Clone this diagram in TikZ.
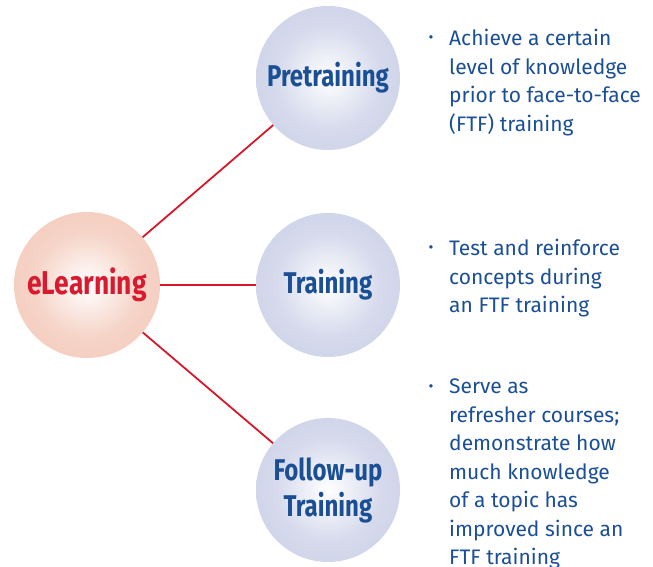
\documentclass[tikz,border=0pt]{standalone}
\usepackage{fontspec}
\setmainfont{Fira Sans}
\newfontfamily\labelfont[FakeStretch=0.8]{Fira Sans Bold}
\definecolor{txtblue}{HTML}{1B4F95}
\definecolor{lblred}{HTML}{D91A2E}
\definecolor{linered}{HTML}{D7182A}
\definecolor{blueouter}{HTML}{C0C5E0}
\definecolor{bluemid}{HTML}{D6DAEC}
\definecolor{pinkouter}{HTML}{F1BCAA}
\definecolor{pinkmid}{HTML}{F6D4C8}
\pgfdeclareradialshading{softblue}{\pgfpoint{0bp}{0bp}}{color(0bp)=(white); color(18bp)=(bluemid); color(50bp)=(blueouter); color(100bp)=(blueouter)}
\pgfdeclareradialshading{softpink}{\pgfpoint{0bp}{0bp}}{color(0bp)=(white); color(18bp)=(pinkmid); color(50bp)=(pinkouter); color(100bp)=(pinkouter)}
\tikzset{
  bluecirc/.style={circle, minimum size=144pt, inner sep=0pt, shading=softblue, text=txtblue, font=\labelfont\fontsize{30}{36}\selectfont, align=center},
  pinkcirc/.style={circle, minimum size=146pt, inner sep=0pt, shading=softpink, text=lblred, font=\labelfont\fontsize{33}{38}\selectfont, align=center},
  conn/.style={draw=linered, line width=1.8pt},
  desc/.style={anchor=north west, inner sep=0pt, text=txtblue, font=\fontsize{21}{28.5}\selectfont, align=left},
  bul/.style={anchor=base, inner sep=0pt, text=txtblue, font=\fontsize{15}{16}\selectfont}
}
\begin{document}
\begin{tikzpicture}[x=1pt,y=-1pt]
\useasboundingbox (0,0) rectangle (653,567);
\node[pinkcirc] (e) at (87,285) {eLearning};
\node[bluecirc] (p) at (328,78) {Pretraining};
\node[bluecirc] (t) at (328,285) {Training};
\node[bluecirc] (f) at (328,490) {Follow-up\\Training};
\draw[conn] (e) -- (p);
\draw[conn] (e) -- (t);
\draw[conn] (e) -- (f);
\node[bul] (b1) at (431,43) {•};
\node[desc] (d1) at (449,29) {Achieve a certain\\level of knowledge\\prior to face-to-face\\(FTF) training};
\node[bul] (b2) at (431,252) {•};
\node[desc] (d2) at (449,239) {Test and reinforce\\concepts during\\an FTF training};
\node[bul] (b3) at (431,391) {•};
\node[desc] (d3) at (449,379) {Serve as\\refresher courses;\\demonstrate how\\much knowledge\\of a topic has\\improved since an\\FTF training};
\end{tikzpicture}
\end{document}
